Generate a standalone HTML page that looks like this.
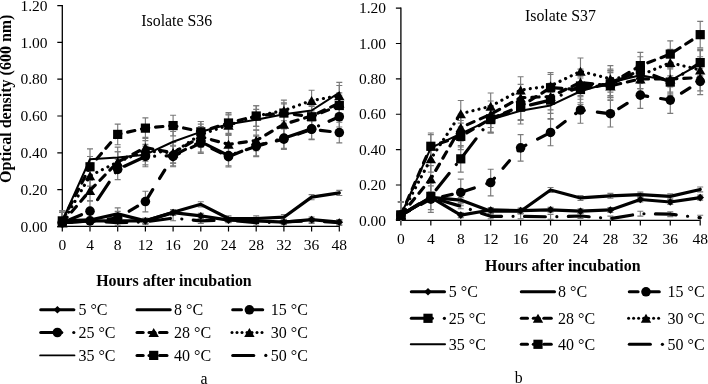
<!DOCTYPE html>
<html><head><meta charset="utf-8"><title>Growth curves of isolates S36 and S37</title>
<style>
html,body{margin:0;padding:0;background:#fff;}
body{width:708px;height:384px;overflow:hidden;font-family:"Liberation Serif",serif;}
svg{display:block;will-change:transform;opacity:0.999;}
</style></head><body>
<svg width="708" height="384" viewBox="0 0 708 384" font-family="'Liberation Serif', serif" fill="#000">
<rect width="708" height="384" fill="#fff"/>
<path d="M62.3 5.1V226.4H339.8" stroke="#000" stroke-width="1.3" fill="none"/>
<path d="M57.3 226.4H62.3M57.3 189.6H62.3M57.3 152.8H62.3M57.3 116H62.3M57.3 79.2H62.3M57.3 42.4H62.3M57.3 5.6H62.3M62.3 226.4V231.4M90 226.4V231.4M117.7 226.4V231.4M145.4 226.4V231.4M173.1 226.4V231.4M200.8 226.4V231.4M228.5 226.4V231.4M256.2 226.4V231.4M283.9 226.4V231.4M311.6 226.4V231.4M339.3 226.4V231.4" stroke="#000" stroke-width="1.2" fill="none"/>
<g font-size="15.5" text-anchor="end">
<text x="47.5" y="231.6">0.00</text>
<text x="47.5" y="194.8">0.20</text>
<text x="47.5" y="158">0.40</text>
<text x="47.5" y="121.2">0.60</text>
<text x="47.5" y="84.4">0.80</text>
<text x="47.5" y="47.6">1.00</text>
<text x="47.5" y="10.8">1.20</text>
</g>
<g font-size="15.5" text-anchor="middle">
<text x="62.3" y="250.2">0</text>
<text x="90" y="250.2">4</text>
<text x="117.7" y="250.2">8</text>
<text x="145.4" y="250.2">12</text>
<text x="173.1" y="250.2">16</text>
<text x="200.8" y="250.2">20</text>
<text x="228.5" y="250.2">24</text>
<text x="256.2" y="250.2">28</text>
<text x="283.9" y="250.2">32</text>
<text x="311.6" y="250.2">36</text>
<text x="339.3" y="250.2">48</text>
</g>
<path d="M62.3 220.14V225.3M59.3 220.14h6M59.3 225.3h6M90 218.3V223.46M87 218.3h6M87 223.46h6M117.7 218.3V223.46M114.7 218.3h6M114.7 223.46h6M145.4 218.3V223.46M142.4 218.3h6M142.4 223.46h6M173.1 210.02V215.18M170.1 210.02h6M170.1 215.18h6M200.8 213.34V218.49M197.8 213.34h6M197.8 218.49h6M228.5 217.57V222.72M225.5 217.57h6M225.5 222.72h6M256.2 218.3V223.46M253.2 218.3h6M253.2 223.46h6M283.9 219.59V224.74M280.9 219.59h6M280.9 224.74h6M311.6 217.02V222.17M308.6 217.02h6M308.6 222.17h6M339.3 219.59V224.74M336.3 219.59h6M336.3 224.74h6" stroke="#7a7a7a" stroke-width="1.15" fill="none"/>
<path d="M62.3 218.3V223.46M59.3 218.3h6M59.3 223.46h6M90 217.38V222.54M87 217.38h6M87 222.54h6M117.7 211.31V216.46M114.7 211.31h6M114.7 216.46h6M145.4 218.3V223.46M142.4 218.3h6M142.4 223.46h6M173.1 209.66V214.81M170.1 209.66h6M170.1 214.81h6M200.8 201.74V206.9M197.8 201.74h6M197.8 206.9h6M228.5 215.91V221.06M225.5 215.91h6M225.5 221.06h6M256.2 215.91V221.06M253.2 215.91h6M253.2 221.06h6M283.9 214.62V219.78M280.9 214.62h6M280.9 219.78h6M311.6 194.57V199.72M308.6 194.57h6M308.6 199.72h6M339.3 190.34V195.49M336.3 190.34h6M336.3 195.49h6" stroke="#7a7a7a" stroke-width="1.15" fill="none"/>
<path d="M62.3 220.14V225.3M59.3 220.14h6M59.3 225.3h6M90 218.3V223.46M87 218.3h6M87 223.46h6M117.7 220.14V225.3M114.7 220.14h6M114.7 225.3h6M145.4 219.22V224.38M142.4 219.22h6M142.4 224.38h6M173.1 215.54V220.7M170.1 215.54h6M170.1 220.7h6M200.8 218.3V223.46M197.8 218.3h6M197.8 223.46h6M228.5 217.38V222.54M225.5 217.38h6M225.5 222.54h6M256.2 220.14V225.3M253.2 220.14h6M253.2 225.3h6M283.9 219.22V224.38M280.9 219.22h6M280.9 224.38h6M311.6 218.3V223.46M308.6 218.3h6M308.6 223.46h6M339.3 220.14V225.3M336.3 220.14h6M336.3 225.3h6" stroke="#7a7a7a" stroke-width="1.15" fill="none"/>
<path d="M62.3 212.42V226.4M59.3 212.42h6M90 210.58V226.4M87 210.58h6M117.7 207.82V226.4M114.7 207.82h6M145.4 191.26V211.86M142.4 191.26h6M142.4 211.86h6M173.1 146.18V166.78M170.1 146.18h6M170.1 166.78h6M200.8 132.74V153.35M197.8 132.74h6M197.8 153.35h6M228.5 146.36V166.97M225.5 146.36h6M225.5 166.97h6M256.2 135.14V155.74M253.2 135.14h6M253.2 155.74h6M283.9 128.88V149.49M280.9 128.88h6M280.9 149.49h6M311.6 118.94V139.55M308.6 118.94h6M308.6 139.55h6M339.3 122.26V142.86M336.3 122.26h6M336.3 142.86h6" stroke="#7a7a7a" stroke-width="1.15" fill="none"/>
<path d="M62.3 212.42V226.4M59.3 212.42h6M90 200.82V221.43M87 200.82h6M87 221.43h6M117.7 159.06V179.66M114.7 159.06h6M114.7 179.66h6M145.4 146.18V166.78M142.4 146.18h6M142.4 166.78h6M173.1 145.26V165.86M170.1 145.26h6M170.1 165.86h6M200.8 131.46V152.06M197.8 131.46h6M197.8 152.06h6M228.5 145.26V165.86M225.5 145.26h6M225.5 165.86h6M256.2 136.06V156.66M253.2 136.06h6M253.2 156.66h6M283.9 127.78V148.38M280.9 127.78h6M280.9 148.38h6M311.6 118.58V139.18M308.6 118.58h6M308.6 139.18h6M339.3 106.43V127.04M336.3 106.43h6M336.3 127.04h6" stroke="#7a7a7a" stroke-width="1.15" fill="none"/>
<path d="M62.3 212.42V226.4M59.3 212.42h6M90 180.22V200.82M87 180.22h6M87 200.82h6M117.7 151.7V172.3M114.7 151.7h6M114.7 172.3h6M145.4 137.34V157.95M142.4 137.34h6M142.4 157.95h6M173.1 142.5V163.1M170.1 142.5h6M170.1 163.1h6M200.8 126.49V147.1M197.8 126.49h6M197.8 147.1h6M228.5 134.03V154.64M225.5 134.03h6M225.5 154.64h6M256.2 130.17V150.78M253.2 130.17h6M253.2 150.78h6M283.9 113.98V134.58M280.9 113.98h6M280.9 134.58h6M311.6 105.7V126.3M308.6 105.7h6M308.6 126.3h6M339.3 92.82V113.42M336.3 92.82h6M336.3 113.42h6" stroke="#7a7a7a" stroke-width="1.15" fill="none"/>
<path d="M62.3 212.42V226.4M59.3 212.42h6M90 165.5V186.1M87 165.5h6M87 186.1h6M117.7 151.7V172.3M114.7 151.7h6M114.7 172.3h6M145.4 140.66V161.26M142.4 140.66h6M142.4 161.26h6M173.1 142.5V163.1M170.1 142.5h6M170.1 163.1h6M200.8 124.1V144.7M197.8 124.1h6M197.8 144.7h6M228.5 114.9V135.5M225.5 114.9h6M225.5 135.5h6M256.2 105.7V126.3M253.2 105.7h6M253.2 126.3h6M283.9 100.18V120.78M280.9 100.18h6M280.9 120.78h6M311.6 90.24V110.85M308.6 90.24h6M308.6 110.85h6M339.3 85.46V106.06M336.3 85.46h6M336.3 106.06h6" stroke="#7a7a7a" stroke-width="1.15" fill="none"/>
<path d="M62.3 210.58V226.4M59.3 210.58h6M90 148.94V169.54M87 148.94h6M87 169.54h6M117.7 147.1V167.7M114.7 147.1h6M114.7 167.7h6M145.4 144.34V164.94M142.4 144.34h6M142.4 164.94h6M173.1 131.46V152.06M170.1 131.46h6M170.1 152.06h6M200.8 121.52V142.13M197.8 121.52h6M197.8 142.13h6M228.5 113.98V134.58M225.5 113.98h6M225.5 134.58h6M256.2 109.38V129.98M253.2 109.38h6M253.2 129.98h6M283.9 103.86V124.46M280.9 103.86h6M280.9 124.46h6M311.6 100.18V120.78M308.6 100.18h6M308.6 120.78h6M339.3 82.33V102.94M336.3 82.33h6M336.3 102.94h6" stroke="#7a7a7a" stroke-width="1.15" fill="none"/>
<path d="M62.3 210.58V226.4M59.3 210.58h6M90 156.48V177.09M87 156.48h6M87 177.09h6M117.7 124.1V144.7M114.7 124.1h6M114.7 144.7h6M145.4 117.84V138.45M142.4 117.84h6M142.4 138.45h6M173.1 115.26V135.87M170.1 115.26h6M170.1 135.87h6M200.8 121.52V142.13M197.8 121.52h6M197.8 142.13h6M228.5 112.69V133.3M225.5 112.69h6M225.5 133.3h6M256.2 105.7V126.3M253.2 105.7h6M253.2 126.3h6M283.9 102.75V123.36M280.9 102.75h6M280.9 123.36h6M311.6 106.43V127.04M308.6 106.43h6M308.6 127.04h6M339.3 95.21V115.82M336.3 95.21h6M336.3 115.82h6" stroke="#7a7a7a" stroke-width="1.15" fill="none"/>
<path d="M62.3 222.72L90 220.88L117.7 220.88L145.4 220.88L173.1 212.6L200.8 215.91L228.5 220.14L256.2 220.88L283.9 222.17L311.6 219.59L339.3 222.17" stroke="#000" stroke-width="3.2" fill="none" stroke-linecap="round" stroke-linejoin="round"/>
<g fill="#000"><path d="M62.3 218.92L66.1 222.72L62.3 226.52L58.5 222.72Z"/><path d="M90 217.08L93.8 220.88L90 224.68L86.2 220.88Z"/><path d="M117.7 217.08L121.5 220.88L117.7 224.68L113.9 220.88Z"/><path d="M145.4 217.08L149.2 220.88L145.4 224.68L141.6 220.88Z"/><path d="M173.1 208.8L176.9 212.6L173.1 216.4L169.3 212.6Z"/><path d="M200.8 212.11L204.6 215.91L200.8 219.71L197 215.91Z"/><path d="M228.5 216.34L232.3 220.14L228.5 223.94L224.7 220.14Z"/><path d="M256.2 217.08L260 220.88L256.2 224.68L252.4 220.88Z"/><path d="M283.9 218.37L287.7 222.17L283.9 225.97L280.1 222.17Z"/><path d="M311.6 215.79L315.4 219.59L311.6 223.39L307.8 219.59Z"/><path d="M339.3 218.37L343.1 222.17L339.3 225.97L335.5 222.17Z"/></g>
<path d="M62.3 220.88L90 219.96L117.7 213.89L145.4 220.88L173.1 212.23L200.8 204.32L228.5 218.49L256.2 218.49L283.9 217.2L311.6 197.14L339.3 192.91" stroke="#000" stroke-width="3.2" fill="none" stroke-linecap="round" stroke-linejoin="round"/>
<path d="M62.3 222.72L90 220.88L117.7 222.72L145.4 221.8L173.1 218.12L200.8 220.88L228.5 219.96L256.2 222.72L283.9 221.8L311.6 220.88L339.3 222.72" stroke="#000" stroke-width="3.2" fill="none" stroke-linecap="round" stroke-linejoin="round" stroke-dasharray="20.8 11.5 0.01 11.5"/>
<path d="M62.3 222.72L90 220.88L117.7 218.12L145.4 201.56L173.1 156.48L200.8 143.05L228.5 156.66L256.2 145.44L283.9 139.18L311.6 129.25L339.3 132.56" stroke="#000" stroke-width="3.2" fill="none" stroke-linecap="round" stroke-linejoin="round" stroke-dasharray="9.8 13.2"/>
<g fill="#000"><circle cx="62.3" cy="222.72" r="4.8"/><circle cx="90" cy="220.88" r="4.8"/><circle cx="117.7" cy="218.12" r="4.8"/><circle cx="145.4" cy="201.56" r="4.8"/><circle cx="173.1" cy="156.48" r="4.8"/><circle cx="200.8" cy="143.05" r="4.8"/><circle cx="228.5" cy="156.66" r="4.8"/><circle cx="256.2" cy="145.44" r="4.8"/><circle cx="283.9" cy="139.18" r="4.8"/><circle cx="311.6" cy="129.25" r="4.8"/><circle cx="339.3" cy="132.56" r="4.8"/></g>
<path d="M62.3 222.72L90 211.13L117.7 169.36L145.4 156.48L173.1 155.56L200.8 141.76L228.5 155.56L256.2 146.36L283.9 138.08L311.6 128.88L339.3 116.74" stroke="#000" stroke-width="3.2" fill="none" stroke-linecap="round" stroke-linejoin="round" stroke-dasharray="20.8 11.5 0.01 11.5"/>
<g fill="#000"><circle cx="62.3" cy="222.72" r="4.8"/><circle cx="90" cy="211.13" r="4.8"/><circle cx="117.7" cy="169.36" r="4.8"/><circle cx="145.4" cy="156.48" r="4.8"/><circle cx="173.1" cy="155.56" r="4.8"/><circle cx="200.8" cy="141.76" r="4.8"/><circle cx="228.5" cy="155.56" r="4.8"/><circle cx="256.2" cy="146.36" r="4.8"/><circle cx="283.9" cy="138.08" r="4.8"/><circle cx="311.6" cy="128.88" r="4.8"/><circle cx="339.3" cy="116.74" r="4.8"/></g>
<path d="M62.3 222.72L90 190.52L117.7 162L145.4 147.65L173.1 152.8L200.8 136.79L228.5 144.34L256.2 140.47L283.9 124.28L311.6 116L339.3 103.12" stroke="#000" stroke-width="3.2" fill="none" stroke-linecap="round" stroke-linejoin="round" stroke-dasharray="7.3 6.9"/>
<g fill="#000"><path d="M62.3 218.12L67.5 227.22L57.1 227.22Z"/><path d="M90 185.92L95.2 195.02L84.8 195.02Z"/><path d="M117.7 157.4L122.9 166.5L112.5 166.5Z"/><path d="M145.4 143.05L150.6 152.15L140.2 152.15Z"/><path d="M173.1 148.2L178.3 157.3L167.9 157.3Z"/><path d="M200.8 132.19L206 141.29L195.6 141.29Z"/><path d="M228.5 139.74L233.7 148.84L223.3 148.84Z"/><path d="M256.2 135.87L261.4 144.97L251 144.97Z"/><path d="M283.9 119.68L289.1 128.78L278.7 128.78Z"/><path d="M311.6 111.4L316.8 120.5L306.4 120.5Z"/><path d="M339.3 98.52L344.5 107.62L334.1 107.62Z"/></g>
<path d="M62.3 222.72L90 175.8L117.7 162L145.4 150.96L173.1 152.8L200.8 134.4L228.5 125.2L256.2 116L283.9 110.48L311.6 100.54L339.3 95.76" stroke="#000" stroke-width="3.2" fill="none" stroke-linecap="round" stroke-linejoin="round" stroke-dasharray="0.01 6.2"/>
<g fill="#000"><path d="M62.3 218.12L67.5 227.22L57.1 227.22Z"/><path d="M90 171.2L95.2 180.3L84.8 180.3Z"/><path d="M117.7 157.4L122.9 166.5L112.5 166.5Z"/><path d="M145.4 146.36L150.6 155.46L140.2 155.46Z"/><path d="M173.1 148.2L178.3 157.3L167.9 157.3Z"/><path d="M200.8 129.8L206 138.9L195.6 138.9Z"/><path d="M228.5 120.6L233.7 129.7L223.3 129.7Z"/><path d="M256.2 111.4L261.4 120.5L251 120.5Z"/><path d="M283.9 105.88L289.1 114.98L278.7 114.98Z"/><path d="M311.6 95.94L316.8 105.04L306.4 105.04Z"/><path d="M339.3 91.16L344.5 100.26L334.1 100.26Z"/></g>
<path d="M62.3 220.88L90 159.24L117.7 157.4L145.4 154.64L173.1 141.76L200.8 131.82L228.5 124.28L256.2 119.68L283.9 114.16L311.6 110.48L339.3 92.63" stroke="#000" stroke-width="2.0" fill="none" stroke-linecap="round" stroke-linejoin="round"/>
<path d="M62.3 220.88L90 166.78L117.7 134.4L145.4 128.14L173.1 125.57L200.8 131.82L228.5 122.99L256.2 116L283.9 113.06L311.6 116.74L339.3 105.51" stroke="#000" stroke-width="3.2" fill="none" stroke-linecap="round" stroke-linejoin="round" stroke-dasharray="7.3 6.9"/>
<g fill="#000"><rect x="57.7" y="216.28" width="9.2" height="9.2"/><rect x="85.4" y="162.18" width="9.2" height="9.2"/><rect x="113.1" y="129.8" width="9.2" height="9.2"/><rect x="140.8" y="123.54" width="9.2" height="9.2"/><rect x="168.5" y="120.97" width="9.2" height="9.2"/><rect x="196.2" y="127.22" width="9.2" height="9.2"/><rect x="223.9" y="118.39" width="9.2" height="9.2"/><rect x="251.6" y="111.4" width="9.2" height="9.2"/><rect x="279.3" y="108.46" width="9.2" height="9.2"/><rect x="307" y="112.14" width="9.2" height="9.2"/><rect x="334.7" y="100.91" width="9.2" height="9.2"/></g>
<text x="141.3" y="25.8" font-size="15.85">Isolate S36</text>
<text transform="translate(10.9 183.0) rotate(-90)" font-size="16" font-weight="bold">Optical density (600 nm)</text>
<text x="96.2" y="286.4" font-size="15.95" font-weight="bold">Hours after incubation</text>
<path d="M40.7 309.8H73.9" stroke="#000" stroke-width="3.0" stroke-linecap="round" fill="none"/>
<path d="M57.4 306L61.2 309.8L57.4 313.6L53.6 309.8Z"/>
<text x="78.4" y="315.1" font-size="16">5 °C</text>
<path d="M137 309.8H170.2" stroke="#000" stroke-width="3.0" stroke-linecap="round" fill="none"/>
<text x="174.1" y="315.1" font-size="16">8 °C</text>
<path d="M232.7 309.8H241.5" stroke="#000" stroke-width="3.0" stroke-linecap="round" fill="none"/>
<path d="M253.7 309.8H262.7" stroke="#000" stroke-width="3.0" stroke-linecap="round" fill="none"/>
<circle cx="249.4" cy="309.8" r="4.8"/>
<text x="270.8" y="315.1" font-size="16">15 °C</text>
<path d="M40.7 332.5H61.8" stroke="#000" stroke-width="3.0" stroke-linecap="round" fill="none"/>
<circle cx="73.8" cy="332.5" r="1.6"/>
<circle cx="57.4" cy="332.5" r="4.8"/>
<text x="78.4" y="337.8" font-size="16">25 °C</text>
<path d="M137 332.5H143.2" stroke="#000" stroke-width="3.0" stroke-linecap="round" fill="none"/>
<path d="M149 332.5H155" stroke="#000" stroke-width="3.0" stroke-linecap="round" fill="none"/>
<path d="M159.5 332.5H167" stroke="#000" stroke-width="3.0" stroke-linecap="round" fill="none"/>
<path d="M153.7 327.9L158.9 337L148.5 337Z"/>
<text x="174.1" y="337.8" font-size="16">28 °C</text>
<circle cx="232" cy="332.5" r="1.5"/>
<circle cx="237" cy="332.5" r="1.5"/>
<circle cx="242" cy="332.5" r="1.5"/>
<circle cx="247" cy="332.5" r="1.5"/>
<circle cx="252" cy="332.5" r="1.5"/>
<circle cx="257" cy="332.5" r="1.5"/>
<circle cx="262" cy="332.5" r="1.5"/>
<path d="M249.4 327.9L254.6 337L244.2 337Z"/>
<text x="270.8" y="337.8" font-size="16">30 °C</text>
<path d="M40.15 355.4H74.45" stroke="#000" stroke-width="1.9" stroke-linecap="round" fill="none"/>
<text x="78.4" y="360.7" font-size="16">35 °C</text>
<path d="M137 355.4H143.2" stroke="#000" stroke-width="3.0" stroke-linecap="round" fill="none"/>
<path d="M149 355.4H155" stroke="#000" stroke-width="3.0" stroke-linecap="round" fill="none"/>
<path d="M159.5 355.4H167" stroke="#000" stroke-width="3.0" stroke-linecap="round" fill="none"/>
<rect x="149.1" y="350.8" width="9.2" height="9.2"/>
<text x="174.1" y="360.7" font-size="16">40 °C</text>
<path d="M232.7 355.4H253.8" stroke="#000" stroke-width="3.0" stroke-linecap="round" fill="none"/>
<circle cx="265.8" cy="355.4" r="1.6"/>
<text x="270.8" y="360.7" font-size="16">50 °C</text>
<text x="204" y="383.6" font-size="15.8" text-anchor="middle">a</text>
<path d="M400.9 7.62V220.4H700.7" stroke="#000" stroke-width="1.3" fill="none"/>
<path d="M395.9 220.4H400.9M395.9 185.02H400.9M395.9 149.64H400.9M395.9 114.26H400.9M395.9 78.88H400.9M395.9 43.5H400.9M395.9 8.12H400.9M400.9 220.4V225.4M430.83 220.4V225.4M460.76 220.4V225.4M490.69 220.4V225.4M520.62 220.4V225.4M550.55 220.4V225.4M580.48 220.4V225.4M610.41 220.4V225.4M640.34 220.4V225.4M670.27 220.4V225.4M700.2 220.4V225.4" stroke="#000" stroke-width="1.2" fill="none"/>
<g font-size="15.5" text-anchor="end">
<text x="386.1" y="225.6">0.00</text>
<text x="386.1" y="190.22">0.20</text>
<text x="386.1" y="154.84">0.40</text>
<text x="386.1" y="119.46">0.60</text>
<text x="386.1" y="84.08">0.80</text>
<text x="386.1" y="48.7">1.00</text>
<text x="386.1" y="13.32">1.20</text>
</g>
<g font-size="15.5" text-anchor="middle">
<text x="400.9" y="244.2">0</text>
<text x="430.83" y="244.2">4</text>
<text x="460.76" y="244.2">8</text>
<text x="490.69" y="244.2">12</text>
<text x="520.62" y="244.2">16</text>
<text x="550.55" y="244.2">20</text>
<text x="580.48" y="244.2">24</text>
<text x="610.41" y="244.2">28</text>
<text x="640.34" y="244.2">32</text>
<text x="670.27" y="244.2">36</text>
<text x="700.2" y="244.2">48</text>
</g>
<path d="M400.9 212.62V217.57M397.9 212.62h6M397.9 217.57h6M430.83 194.93V199.88M427.83 194.93h6M427.83 199.88h6M460.76 212.62V217.57M457.76 212.62h6M457.76 217.57h6M490.69 207.49V212.44M487.69 207.49h6M487.69 212.44h6M520.62 208.19V213.15M517.62 208.19h6M517.62 213.15h6M550.55 207.31V212.26M547.55 207.31h6M547.55 212.26h6M580.48 208.72V213.68M577.48 208.72h6M577.48 213.68h6M610.41 207.49V212.44M607.41 207.49h6M607.41 212.44h6M640.34 197.05V202M637.34 197.05h6M637.34 202h6M670.27 199.53V204.48M667.27 199.53h6M667.27 204.48h6M700.2 195.1V200.06M697.2 195.1h6M697.2 200.06h6" stroke="#7a7a7a" stroke-width="1.15" fill="none"/>
<path d="M400.9 212.62V217.57M397.9 212.62h6M397.9 217.57h6M430.83 194.93V199.88M427.83 194.93h6M427.83 199.88h6M460.76 197.58V202.53M457.76 197.58h6M457.76 202.53h6M490.69 208.72V213.68M487.69 208.72h6M487.69 213.68h6M520.62 208.72V213.68M517.62 208.72h6M517.62 213.68h6M550.55 187.5V192.45M547.55 187.5h6M547.55 192.45h6M580.48 195.46V200.41M577.48 195.46h6M577.48 200.41h6M610.41 193.33V198.29M607.41 193.33h6M607.41 198.29h6M640.34 192.1V197.05M637.34 192.1h6M637.34 197.05h6M670.27 193.87V198.82M667.27 193.87h6M667.27 198.82h6M700.2 186.97V191.92M697.2 186.97h6M697.2 191.92h6" stroke="#7a7a7a" stroke-width="1.15" fill="none"/>
<path d="M400.9 212.62V217.57M397.9 212.62h6M397.9 217.57h6M430.83 194.93V199.88M427.83 194.93h6M427.83 199.88h6M460.76 203.77V208.72M457.76 203.77h6M457.76 208.72h6M490.69 213.85V218.81M487.69 213.85h6M487.69 218.81h6M520.62 213.85V218.81M517.62 213.85h6M517.62 218.81h6M550.55 214.39V219.34M547.55 214.39h6M547.55 219.34h6M580.48 213.5V218.45M577.48 213.5h6M577.48 218.45h6M610.41 216.15V220.4M607.41 216.15h6M640.34 211.2V216.15M637.34 211.2h6M637.34 216.15h6M670.27 211.73V216.69M667.27 211.73h6M667.27 216.69h6M700.2 215.27V220.4M697.2 215.27h6" stroke="#7a7a7a" stroke-width="1.15" fill="none"/>
<path d="M400.9 201.83V220.4M397.9 201.83h6M430.83 185.9V212.44M427.83 185.9h6M427.83 212.44h6M460.76 179.18V205.72M457.76 179.18h6M457.76 205.72h6M490.69 169.28V195.81M487.69 169.28h6M487.69 195.81h6M520.62 134.6V161.14M517.62 134.6h6M517.62 161.14h6M550.55 119.21V145.75M547.55 119.21h6M547.55 145.75h6M580.48 96.75V123.28M577.48 96.75h6M577.48 123.28h6M610.41 100.46V127M607.41 100.46h6M607.41 127h6M640.34 81.89V108.42M637.34 81.89h6M637.34 108.42h6M670.27 86.84V113.38M667.27 86.84h6M667.27 113.38h6M700.2 68.09V94.62M697.2 68.09h6M697.2 94.62h6" stroke="#7a7a7a" stroke-width="1.15" fill="none"/>
<path d="M400.9 201.83V220.4M397.9 201.83h6M430.83 183.07V209.61M427.83 183.07h6M427.83 209.61h6M460.76 145.57V172.11M457.76 145.57h6M457.76 172.11h6M490.69 106.3V132.83M487.69 106.3h6M487.69 132.83h6M520.62 93.92V120.45M517.62 93.92h6M517.62 120.45h6M550.55 86.84V113.38M547.55 86.84h6M547.55 113.38h6M580.48 72.69V99.22M577.48 72.69h6M577.48 99.22h6M610.41 70.92V97.45M607.41 70.92h6M607.41 97.45h6M640.34 56.77V83.3M637.34 56.77h6M637.34 83.3h6M670.27 68.8V95.33M667.27 68.8h6M667.27 95.33h6M700.2 49.34V75.87M697.2 49.34h6M697.2 75.87h6" stroke="#7a7a7a" stroke-width="1.15" fill="none"/>
<path d="M400.9 201.83V220.4M397.9 201.83h6M430.83 165.56V192.1M427.83 165.56h6M427.83 192.1h6M460.76 114.26V140.8M457.76 114.26h6M457.76 140.8h6M490.69 100.99V127.53M487.69 100.99h6M487.69 127.53h6M520.62 84.36V110.9M517.62 84.36h6M517.62 110.9h6M550.55 83.3V109.84M547.55 83.3h6M547.55 109.84h6M580.48 69.15V95.69M577.48 69.15h6M577.48 95.69h6M610.41 72.69V99.22M607.41 72.69h6M607.41 99.22h6M640.34 65.61V92.15M637.34 65.61h6M637.34 92.15h6M670.27 65.61V92.15M667.27 65.61h6M667.27 92.15h6M700.2 64.37V90.91M697.2 64.37h6M697.2 90.91h6" stroke="#7a7a7a" stroke-width="1.15" fill="none"/>
<path d="M400.9 201.83V220.4M397.9 201.83h6M430.83 145.57V172.11M427.83 145.57h6M427.83 172.11h6M460.76 100.46V127M457.76 100.46h6M457.76 127h6M490.69 93.03V119.57M487.69 93.03h6M487.69 119.57h6M520.62 76.76V103.29M517.62 76.76h6M517.62 103.29h6M550.55 72.69V99.22M547.55 72.69h6M547.55 99.22h6M580.48 58.01V84.54M577.48 58.01h6M577.48 84.54h6M610.41 65.61V92.15M607.41 65.61h6M607.41 92.15h6M640.34 62.07V88.61M637.34 62.07h6M637.34 88.61h6M670.27 49.34V75.87M667.27 49.34h6M667.27 75.87h6M700.2 56.77V83.3M697.2 56.77h6M697.2 83.3h6" stroke="#7a7a7a" stroke-width="1.15" fill="none"/>
<path d="M400.9 201.83V220.4M397.9 201.83h6M430.83 134.6V161.14M427.83 134.6h6M427.83 161.14h6M460.76 120.45V146.99M457.76 120.45h6M457.76 146.99h6M490.69 106.3V132.83M487.69 106.3h6M487.69 132.83h6M520.62 97.45V123.99M517.62 97.45h6M517.62 123.99h6M550.55 92.15V118.68M547.55 92.15h6M547.55 118.68h6M580.48 78V104.53M577.48 78h6M577.48 104.53h6M610.41 69.15V95.69M607.41 69.15h6M607.41 95.69h6M640.34 62.07V88.61M637.34 62.07h6M637.34 88.61h6M670.27 67.38V93.92M667.27 67.38h6M667.27 93.92h6M700.2 50.58V77.11M697.2 50.58h6M697.2 77.11h6" stroke="#7a7a7a" stroke-width="1.15" fill="none"/>
<path d="M400.9 201.83V220.4M397.9 201.83h6M430.83 133.01V159.55M427.83 133.01h6M427.83 159.55h6M460.76 123.11V149.64M457.76 123.11h6M457.76 149.64h6M490.69 105.59V132.13M487.69 105.59h6M487.69 132.13h6M520.62 93.03V119.57M517.62 93.03h6M517.62 119.57h6M550.55 74.46V100.99M547.55 74.46h6M547.55 100.99h6M580.48 76.23V102.76M577.48 76.23h6M577.48 102.76h6M610.41 70.57V97.1M607.41 70.57h6M607.41 97.1h6M640.34 52.35V78.88M637.34 52.35h6M637.34 78.88h6M670.27 40.85V67.38M667.27 40.85h6M667.27 67.38h6M700.2 21.39V47.92M697.2 21.39h6M697.2 47.92h6" stroke="#7a7a7a" stroke-width="1.15" fill="none"/>
<path d="M400.9 215.09L430.83 197.4L460.76 215.09L490.69 209.96L520.62 210.67L550.55 209.79L580.48 211.2L610.41 209.96L640.34 199.53L670.27 202L700.2 197.58" stroke="#000" stroke-width="3.2" fill="none" stroke-linecap="round" stroke-linejoin="round"/>
<g fill="#000"><path d="M400.9 211.29L404.7 215.09L400.9 218.89L397.1 215.09Z"/><path d="M430.83 193.6L434.63 197.4L430.83 201.2L427.03 197.4Z"/><path d="M460.76 211.29L464.56 215.09L460.76 218.89L456.96 215.09Z"/><path d="M490.69 206.16L494.49 209.96L490.69 213.76L486.89 209.96Z"/><path d="M520.62 206.87L524.42 210.67L520.62 214.47L516.82 210.67Z"/><path d="M550.55 205.99L554.35 209.79L550.55 213.59L546.75 209.79Z"/><path d="M580.48 207.4L584.28 211.2L580.48 215L576.68 211.2Z"/><path d="M610.41 206.16L614.21 209.96L610.41 213.76L606.61 209.96Z"/><path d="M640.34 195.73L644.14 199.53L640.34 203.33L636.54 199.53Z"/><path d="M670.27 198.2L674.07 202L670.27 205.8L666.47 202Z"/><path d="M700.2 193.78L704 197.58L700.2 201.38L696.4 197.58Z"/></g>
<path d="M400.9 215.09L430.83 197.4L460.76 200.06L490.69 211.2L520.62 211.2L550.55 189.97L580.48 197.93L610.41 195.81L640.34 194.57L670.27 196.34L700.2 189.44" stroke="#000" stroke-width="3.2" fill="none" stroke-linecap="round" stroke-linejoin="round"/>
<path d="M400.9 215.09L430.83 197.4L460.76 206.25L490.69 216.33L520.62 216.33L550.55 216.86L580.48 215.98L610.41 218.63L640.34 213.68L670.27 214.21L700.2 217.75" stroke="#000" stroke-width="3.2" fill="none" stroke-linecap="round" stroke-linejoin="round" stroke-dasharray="20.8 11.5 0.01 11.5"/>
<path d="M400.9 215.09L430.83 199.17L460.76 192.45L490.69 182.54L520.62 147.87L550.55 132.48L580.48 110.01L610.41 113.73L640.34 95.15L670.27 100.11L700.2 81.36" stroke="#000" stroke-width="3.2" fill="none" stroke-linecap="round" stroke-linejoin="round" stroke-dasharray="9.8 13.2"/>
<g fill="#000"><circle cx="400.9" cy="215.09" r="4.8"/><circle cx="430.83" cy="199.17" r="4.8"/><circle cx="460.76" cy="192.45" r="4.8"/><circle cx="490.69" cy="182.54" r="4.8"/><circle cx="520.62" cy="147.87" r="4.8"/><circle cx="550.55" cy="132.48" r="4.8"/><circle cx="580.48" cy="110.01" r="4.8"/><circle cx="610.41" cy="113.73" r="4.8"/><circle cx="640.34" cy="95.15" r="4.8"/><circle cx="670.27" cy="100.11" r="4.8"/><circle cx="700.2" cy="81.36" r="4.8"/></g>
<path d="M400.9 215.09L430.83 196.34L460.76 158.84L490.69 119.57L520.62 107.18L550.55 100.11L580.48 85.96L610.41 84.19L640.34 70.03L670.27 82.06L700.2 62.61" stroke="#000" stroke-width="3.2" fill="none" stroke-linecap="round" stroke-linejoin="round" stroke-dasharray="20.8 11.5 0.01 11.5"/>
<g fill="#000"><rect x="396.3" y="210.49" width="9.2" height="9.2"/><rect x="426.23" y="191.74" width="9.2" height="9.2"/><rect x="456.16" y="154.24" width="9.2" height="9.2"/><rect x="486.09" y="114.97" width="9.2" height="9.2"/><rect x="516.02" y="102.58" width="9.2" height="9.2"/><rect x="545.95" y="95.51" width="9.2" height="9.2"/><rect x="575.88" y="81.36" width="9.2" height="9.2"/><rect x="605.81" y="79.59" width="9.2" height="9.2"/><rect x="635.74" y="65.44" width="9.2" height="9.2"/><rect x="665.67" y="77.46" width="9.2" height="9.2"/><rect x="695.6" y="58.01" width="9.2" height="9.2"/></g>
<path d="M400.9 215.09L430.83 178.83L460.76 127.53L490.69 114.26L520.62 97.63L550.55 96.57L580.48 82.42L610.41 85.96L640.34 78.88L670.27 78.88L700.2 77.64" stroke="#000" stroke-width="3.2" fill="none" stroke-linecap="round" stroke-linejoin="round" stroke-dasharray="7.3 6.9"/>
<g fill="#000"><path d="M400.9 210.49L406.1 219.59L395.7 219.59Z"/><path d="M430.83 174.23L436.03 183.33L425.63 183.33Z"/><path d="M460.76 122.93L465.96 132.03L455.56 132.03Z"/><path d="M490.69 109.66L495.89 118.76L485.49 118.76Z"/><path d="M520.62 93.03L525.82 102.13L515.42 102.13Z"/><path d="M550.55 91.97L555.75 101.07L545.35 101.07Z"/><path d="M580.48 77.82L585.68 86.92L575.28 86.92Z"/><path d="M610.41 81.36L615.61 90.46L605.21 90.46Z"/><path d="M640.34 74.28L645.54 83.38L635.14 83.38Z"/><path d="M670.27 74.28L675.47 83.38L665.07 83.38Z"/><path d="M700.2 73.04L705.4 82.14L695 82.14Z"/></g>
<path d="M400.9 215.09L430.83 158.84L460.76 113.73L490.69 106.3L520.62 90.02L550.55 85.96L580.48 71.27L610.41 78.88L640.34 75.34L670.27 62.61L700.2 70.03" stroke="#000" stroke-width="3.2" fill="none" stroke-linecap="round" stroke-linejoin="round" stroke-dasharray="0.01 6.2"/>
<g fill="#000"><path d="M400.9 210.49L406.1 219.59L395.7 219.59Z"/><path d="M430.83 154.24L436.03 163.34L425.63 163.34Z"/><path d="M460.76 109.13L465.96 118.23L455.56 118.23Z"/><path d="M490.69 101.7L495.89 110.8L485.49 110.8Z"/><path d="M520.62 85.42L525.82 94.52L515.42 94.52Z"/><path d="M550.55 81.36L555.75 90.46L545.35 90.46Z"/><path d="M580.48 66.67L585.68 75.77L575.28 75.77Z"/><path d="M610.41 74.28L615.61 83.38L605.21 83.38Z"/><path d="M640.34 70.74L645.54 79.84L635.14 79.84Z"/><path d="M670.27 58.01L675.47 67.11L665.07 67.11Z"/><path d="M700.2 65.44L705.4 74.53L695 74.53Z"/></g>
<path d="M400.9 215.09L430.83 147.87L460.76 133.72L490.69 119.57L520.62 110.72L550.55 105.41L580.48 91.26L610.41 82.42L640.34 75.34L670.27 80.65L700.2 63.84" stroke="#000" stroke-width="2.0" fill="none" stroke-linecap="round" stroke-linejoin="round"/>
<path d="M400.9 215.09L430.83 146.28L460.76 136.37L490.69 118.86L520.62 106.3L550.55 87.72L580.48 89.49L610.41 83.83L640.34 65.61L670.27 54.11L700.2 34.66" stroke="#000" stroke-width="3.2" fill="none" stroke-linecap="round" stroke-linejoin="round" stroke-dasharray="7.3 6.9"/>
<g fill="#000"><rect x="396.3" y="210.49" width="9.2" height="9.2"/><rect x="426.23" y="141.68" width="9.2" height="9.2"/><rect x="456.16" y="131.77" width="9.2" height="9.2"/><rect x="486.09" y="114.26" width="9.2" height="9.2"/><rect x="516.02" y="101.7" width="9.2" height="9.2"/><rect x="545.95" y="83.12" width="9.2" height="9.2"/><rect x="575.88" y="84.89" width="9.2" height="9.2"/><rect x="605.81" y="79.23" width="9.2" height="9.2"/><rect x="635.74" y="61.01" width="9.2" height="9.2"/><rect x="665.67" y="49.51" width="9.2" height="9.2"/><rect x="695.6" y="30.05" width="9.2" height="9.2"/></g>
<text x="525" y="20.8" font-size="15.85">Isolate S37</text>
<text x="485" y="271" font-size="15.95" font-weight="bold">Hours after incubation</text>
<path d="M411.3 291.8H444.5" stroke="#000" stroke-width="3.0" stroke-linecap="round" fill="none"/>
<path d="M428 288L431.8 291.8L428 295.6L424.2 291.8Z"/>
<text x="448.8" y="297.2" font-size="16">5 °C</text>
<path d="M521.3 291.8H554.5" stroke="#000" stroke-width="3.0" stroke-linecap="round" fill="none"/>
<text x="558" y="297.2" font-size="16">8 °C</text>
<path d="M629.3 291.8H638.1" stroke="#000" stroke-width="3.0" stroke-linecap="round" fill="none"/>
<path d="M650.3 291.8H659.3" stroke="#000" stroke-width="3.0" stroke-linecap="round" fill="none"/>
<circle cx="646" cy="291.8" r="4.8"/>
<text x="667.6" y="297.2" font-size="16">15 °C</text>
<path d="M411.3 318.3H432.4" stroke="#000" stroke-width="3.0" stroke-linecap="round" fill="none"/>
<circle cx="444.4" cy="318.3" r="1.6"/>
<rect x="423.4" y="313.7" width="9.2" height="9.2"/>
<text x="448.8" y="323.7" font-size="16">25 °C</text>
<path d="M521.3 318.3H527.5" stroke="#000" stroke-width="3.0" stroke-linecap="round" fill="none"/>
<path d="M533.3 318.3H539.3" stroke="#000" stroke-width="3.0" stroke-linecap="round" fill="none"/>
<path d="M543.8 318.3H551.3" stroke="#000" stroke-width="3.0" stroke-linecap="round" fill="none"/>
<path d="M538 313.7L543.2 322.8L532.8 322.8Z"/>
<text x="558" y="323.7" font-size="16">28 °C</text>
<circle cx="628.6" cy="318.3" r="1.5"/>
<circle cx="633.6" cy="318.3" r="1.5"/>
<circle cx="638.6" cy="318.3" r="1.5"/>
<circle cx="643.6" cy="318.3" r="1.5"/>
<circle cx="648.6" cy="318.3" r="1.5"/>
<circle cx="653.6" cy="318.3" r="1.5"/>
<circle cx="658.6" cy="318.3" r="1.5"/>
<path d="M646 313.7L651.2 322.8L640.8 322.8Z"/>
<text x="667.6" y="323.7" font-size="16">30 °C</text>
<path d="M410.75 344.3H445.05" stroke="#000" stroke-width="1.9" stroke-linecap="round" fill="none"/>
<text x="448.8" y="349.7" font-size="16">35 °C</text>
<path d="M521.3 344.3H527.5" stroke="#000" stroke-width="3.0" stroke-linecap="round" fill="none"/>
<path d="M533.3 344.3H539.3" stroke="#000" stroke-width="3.0" stroke-linecap="round" fill="none"/>
<path d="M543.8 344.3H551.3" stroke="#000" stroke-width="3.0" stroke-linecap="round" fill="none"/>
<rect x="533.4" y="339.7" width="9.2" height="9.2"/>
<text x="558" y="349.7" font-size="16">40 °C</text>
<path d="M629.3 344.3H650.4" stroke="#000" stroke-width="3.0" stroke-linecap="round" fill="none"/>
<circle cx="662.4" cy="344.3" r="1.6"/>
<text x="667.6" y="349.7" font-size="16">50 °C</text>
<text x="518.8" y="382.5" font-size="15.8" text-anchor="middle">b</text>
</svg>
</body></html>
